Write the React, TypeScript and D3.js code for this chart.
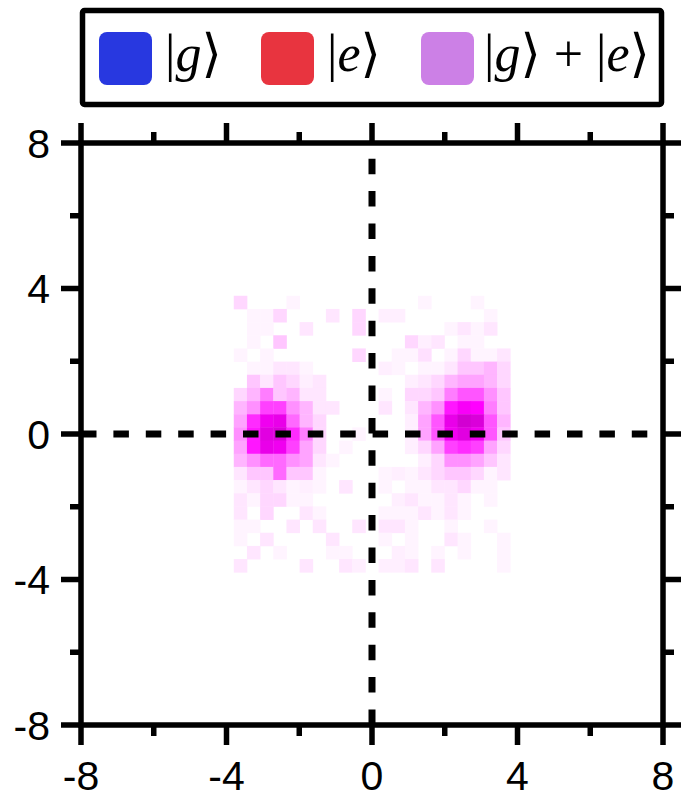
import React from "react";
import * as d3 from "d3";

// ---- data ----
const xTicksMajor = [-8, -4, 0, 4, 8];
const xTicksMinor = [-6, -2, 2, 6];
const yTicksMajor = [-8, -4, 0, 4, 8];
const yTicksMinor = [-6, -2, 2, 6];
const tickLabels = ["-8", "-4", "0", "4", "8"];

const legendLabels = ["g", "e", "g+e"];
const legendColors = ["#2838e0", "#e8343f", "#cc80e6"];

// histogram grid spans -3.8..3.8 in both axes, 21x21 bins; rows listed top (y=3.8) to bottom
const gridExtent = [-3.8, 3.8];
const counts: number[][] = [
  [1.5, 0, 0, 0, 0.5, 0, 0, 0, 0, 0, 0, 0, 0, 0, 0.5, 0, 0, 0, 0.5, 0, 0],
  [0, 0.5, 0.5, 1.5, 0, 0, 0, 1, 0, 1.5, 0, 0.7, 0.7, 0, 0, 0, 0, 0, 0, 0.5, 0],
  [0, 0.5, 0.5, 0, 0, 1, 0, 0, 0, 1.5, 0, 0, 0, 0, 0, 0, 0.5, 1, 0.5, 1, 0],
  [0, 0.5, 0, 2, 0, 0, 0, 0, 0, 0, 0, 0, 0, 1.5, 0.7, 1, 0, 0.5, 0.5, 0, 0],
  [0.5, 0, 0.5, 0, 0, 0, 0, 0, 0, 1.5, 0, 0, 0.5, 0.5, 1.2, 0, 0.5, 1.5, 0.5, 0.5, 1],
  [0, 0.5, 0.5, 1, 1, 0.5, 0, 0, 0, 0, 0, 0.7, 0.5, 0, 0.5, 0.5, 1, 2, 2, 2.5, 1.5],
  [0, 2, 1, 2, 1.5, 0.7, 1, 0, 0, 0, 0, 0, 0, 0.7, 1, 1.5, 2.5, 3, 3, 2.5, 1.5],
  [1.5, 2.5, 4, 2, 2.5, 1, 1, 0, 0, 0, 0, 0.5, 0, 1.5, 1.5, 2, 4, 5, 5, 3.5, 2],
  [2.5, 3.5, 5.5, 5.5, 3.5, 2.5, 1, 1, 0, 0, 0, 1, 0, 1, 2.5, 3.5, 6.5, 7.5, 7, 4, 2],
  [3, 6, 8, 8.5, 4.5, 2.5, 1.5, 0, 0, 0, 0, 0, 0, 0.7, 3, 5, 8.5, 10, 9.5, 5, 2.5],
  [3.5, 6.5, 9, 9.5, 6, 4, 1.5, 0, 0, 0.5, 0, 0, 0, 0.7, 3, 5, 8, 9, 8, 5, 2],
  [3, 6.5, 8.5, 8, 5.5, 3, 1.5, 0, 0.5, 0, 0, 0, 0, 0.7, 1.5, 3, 5.5, 6, 5.5, 3, 1.5],
  [2.5, 3.5, 4.5, 4.5, 3.5, 3, 1, 0.5, 0, 0, 0, 0, 0, 0, 0.7, 1.5, 3.5, 3.5, 3, 2, 1],
  [1, 2, 2, 4.5, 2, 2, 0.5, 0, 0, 0, 0, 0.5, 0.7, 0.5, 1, 1.5, 2, 2, 1.5, 0.5, 1],
  [0.5, 1, 1.5, 1, 0.5, 0.7, 0.5, 0, 1, 0, 0, 0.5, 0, 0.5, 0.5, 1, 1, 1.5, 0.5, 0.5, 0],
  [1, 0.5, 1.5, 1.5, 0.5, 0.5, 0, 0, 0, 0, 0, 0, 0.7, 1, 0.5, 0.5, 1, 0.5, 0, 0.5, 0],
  [1, 0, 1.5, 0, 0, 1, 0.5, 0, 0, 0, 0, 0.5, 0.5, 0.5, 1, 0.5, 1, 0.5, 0, 0, 0],
  [0.5, 0.5, 0, 0, 1, 0, 1, 0, 0, 1, 0, 1, 1, 0.5, 0, 0, 0.5, 0, 0, 0.5, 0],
  [0.5, 0, 1, 0, 0, 0, 0, 1, 0, 0, 0, 0.5, 0, 0.5, 0, 0, 1, 0.5, 0, 0, 0.5],
  [0, 1, 0, 0.5, 0, 0, 0, 0.5, 0.5, 0, 0, 0, 0.7, 0.5, 0, 0.5, 0, 0.5, 0, 0, 0.5],
  [1, 0, 0, 0, 0, 1, 0, 0, 1, 0.7, 0, 0.7, 0.7, 1, 0, 1, 0, 0, 0, 0, 0.5],
];

// ---- layout ----
const W = 681;
const H = 799;
const plotLeft = 81;
const plotRight = 663;
const plotTop = 143;
const plotBottom = 725;

const x = d3.scaleLinear().domain([-8, 8]).range([plotLeft, plotRight]);
const y = d3.scaleLinear().domain([-8, 8]).range([plotBottom, plotTop]);
const lowT = d3.scalePow().exponent(1.2).domain([0, 7]).range([0, 1]).clamp(true);
const lowColor = d3.interpolateRgb("#ffffff", "#ff00ff");
const highColor = d3.scaleLinear<string>().domain([7, 10]).range(["#ff00ff", "#d200d2"]).clamp(true);
const color = (v: number) => (v <= 7 ? lowColor(lowT(v)) : highColor(v));

const nRows = counts.length;
const nCols = counts[0].length;
const cellW = (gridExtent[1] - gridExtent[0]) / nCols;
const cellH = (gridExtent[1] - gridExtent[0]) / nRows;

const axisFont = "Liberation Sans";
const mathFont = "Liberation Serif";
const bracketFont = "DejaVu Serif";

function Ket({ label }: { label: string }) {
  const sym = (s: string) => (
    <>
      <tspan style={{ fontFamily: mathFont }}>|</tspan>
      <tspan style={{ fontFamily: mathFont, fontStyle: "italic" }}>{s}</tspan>
      <tspan style={{ fontFamily: bracketFont, fontWeight: 200 }}>⟩</tspan>
    </>
  );
  if (label === "g+e") {
    return (
      <>
        {sym("g")}
        <tspan style={{ fontFamily: mathFont }}>{"\u00a0+\u00a0"}</tspan>
        {sym("e")}
      </>
    );
  }
  return sym(label);
}

export default function App() {
  const cells: { key: string; x0: number; y0: number; v: number }[] = [];
  counts.forEach((row, r) =>
    row.forEach((v, c) => {
      if (v > 0) {
        cells.push({
          key: `${r}-${c}`,
          x0: gridExtent[0] + c * cellW,
          y0: gridExtent[1] - r * cellH,
          v,
        });
      }
    })
  );

  const majorLen = 20;
  const minorLen = 11;
  const legendSwatchX = [99, 261, 421];
  const legendTextX = [165, 327, 484];

  return (
    <svg
      width={W}
      height={H}
      style={{ position: "absolute", left: 0, top: 0, background: "#fff" }}
    >
      <rect x={0} y={0} width={W} height={H} fill="#fff" />
      {/* legend */}
      <rect
        x={82.5}
        y={10.5}
        width={579}
        height={94}
        fill="#fff"
        stroke="#000"
        strokeWidth={5.5}
        rx={2}
      />
      {legendLabels.map((l, i) => (
        <g key={l}>
          <rect
            x={legendSwatchX[i]}
            y={32}
            width={53}
            height={53}
            rx={8}
            fill={legendColors[i]}
          />
          <text x={legendTextX[i]} y={71} fontSize={52} fill="#000" style={{ fontFamily: mathFont }}>
            <Ket label={l} />
          </text>
        </g>
      ))}

      {/* heatmap cells */}
      {cells.map((d) => (
        <rect
          key={d.key}
          x={x(d.x0)}
          y={y(d.y0)}
          width={x(d.x0 + cellW) - x(d.x0) + 0.4}
          height={y(d.y0 - cellH) - y(d.y0) + 0.4}
          fill={color(d.v)}
        />
      ))}

      {/* dashed zero lines */}
      <line
        x1={x(-8)}
        x2={x(8)}
        y1={y(0)}
        y2={y(0)}
        stroke="#000"
        strokeWidth={7}
        strokeDasharray="15.5 16.9"
      />
      <line
        x1={x(0)}
        x2={x(0)}
        y1={y(-8)}
        y2={y(8)}
        stroke="#000"
        strokeWidth={7}
        strokeDasharray="15.5 16.9"
      />

      {/* frame */}
      <rect
        x={plotLeft}
        y={plotTop}
        width={plotRight - plotLeft}
        height={plotBottom - plotTop}
        fill="none"
        stroke="#000"
        strokeWidth={5.5}
      />
      {/* ticks */}
      {xTicksMajor.map((t) => (
        <g key={`xm${t}`}>
          <line x1={x(t)} x2={x(t)} y1={plotBottom} y2={plotBottom + majorLen} stroke="#000" strokeWidth={5.5} />
          <line x1={x(t)} x2={x(t)} y1={plotTop} y2={plotTop - majorLen} stroke="#000" strokeWidth={5.5} />
        </g>
      ))}
      {xTicksMinor.map((t) => (
        <g key={`xn${t}`}>
          <line x1={x(t)} x2={x(t)} y1={plotBottom} y2={plotBottom + minorLen} stroke="#000" strokeWidth={5.5} />
          <line x1={x(t)} x2={x(t)} y1={plotTop} y2={plotTop - minorLen} stroke="#000" strokeWidth={5.5} />
        </g>
      ))}
      {yTicksMajor.map((t) => (
        <g key={`ym${t}`}>
          <line x1={plotLeft} x2={plotLeft - majorLen} y1={y(t)} y2={y(t)} stroke="#000" strokeWidth={5.5} />
          <line x1={plotRight} x2={plotRight + majorLen} y1={y(t)} y2={y(t)} stroke="#000" strokeWidth={5.5} />
        </g>
      ))}
      {yTicksMinor.map((t) => (
        <g key={`yn${t}`}>
          <line x1={plotLeft} x2={plotLeft - minorLen} y1={y(t)} y2={y(t)} stroke="#000" strokeWidth={5.5} />
          <line x1={plotRight} x2={plotRight + minorLen} y1={y(t)} y2={y(t)} stroke="#000" strokeWidth={5.5} />
        </g>
      ))}

      {/* tick labels */}
      {xTicksMajor.map((t, i) => (
        <text
          key={`xl${t}`}
          x={x(t)}
          y={790}
          textAnchor="middle"
          fontSize={41}
          fill="#000"
          style={{ fontFamily: axisFont }}
        >
          {tickLabels[i]}
        </text>
      ))}
      {yTicksMajor.map((t, i) => (
        <text
          key={`yl${t}`}
          x={50}
          y={y(t)}
          dy="0.36em"
          textAnchor="end"
          fontSize={41}
          fill="#000"
          style={{ fontFamily: axisFont }}
        >
          {tickLabels[i]}
        </text>
      ))}
    </svg>
  );
}
